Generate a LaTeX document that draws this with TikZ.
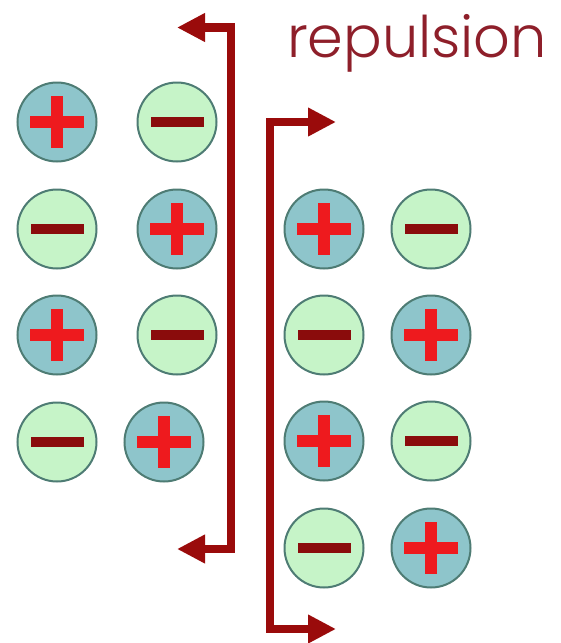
\documentclass[tikz,border=0pt]{standalone}
\usepackage{fontspec}
\setmainfont{Poppins Light}
\usetikzlibrary{arrows.meta}
\definecolor{pfill}{HTML}{8EC5CB}
\definecolor{mfill}{HTML}{C6F4C8}
\definecolor{ringcol}{HTML}{4E7C74}
\definecolor{plusred}{HTML}{EE1A1E}
\definecolor{minusred}{HTML}{8A0C0C}
\definecolor{arrowred}{HTML}{9A0B0B}
\definecolor{textred}{HTML}{8E1F2A}
\tikzset{
  ring/.style={circle, draw=ringcol, line width=2pt, minimum size=79pt, inner sep=0pt},
  pcharge/.pic={
    \node[ring, fill=pfill] (-c) {};
    \fill[plusred] (-27,-6) rectangle (27,6);
    \fill[plusred] (-6,-26) rectangle (6,26);
  },
  mcharge/.pic={
    \node[ring, fill=mfill] (-c) {};
    \fill[minusred] (-26.5,-5) rectangle (26.5,5);
  },
  bracket/.style={draw=arrowred, line width=8.5pt, line join=miter,
    {Triangle[length=28pt,width=27pt]}-{Triangle[length=28pt,width=27pt]}},
  label/.style={text=textred, font=\fontsize{50}{56}\selectfont, inner sep=0pt, anchor=base}
}
\begin{document}
\begin{tikzpicture}[x=1pt,y=-1pt]
\useasboundingbox[fill=white] (0,0) rectangle (561,643);
% left group
\pic (a1) at (57,122) {pcharge};
\pic (a2) at (177,122) {mcharge};
\pic (a3) at (57,229) {mcharge};
\pic (a4) at (177,229) {pcharge};
\pic (a5) at (57,335) {pcharge};
\pic (a6) at (177,335) {mcharge};
\pic (a7) at (57,442) {mcharge};
\pic (a8) at (164,442) {pcharge};
% right group
\pic (b1) at (324,229) {pcharge};
\pic (b2) at (431,229) {mcharge};
\pic (b3) at (324,335) {mcharge};
\pic (b4) at (431,335) {pcharge};
\pic (b5) at (324,441) {pcharge};
\pic (b6) at (431,441) {mcharge};
\pic (b7) at (324,548) {mcharge};
\pic (b8) at (431,548) {pcharge};
% brackets
\coordinate (lt) at (177,27.5);
\coordinate (ltc) at (231,27.5);
\coordinate (lbc) at (231,549);
\coordinate (lb) at (177,549);
\draw[bracket] (lt) -- (ltc) -- (lbc) -- (lb);
\coordinate (rt) at (336,122);
\coordinate (rtc) at (270,122);
\coordinate (rbc) at (270,629);
\coordinate (rb) at (336,629);
\draw[bracket] (rt) -- (rtc) -- (rbc) -- (rb);
% label
\node[label] (rep) at (417,57) {\resizebox{260pt}{!}{repulsion}};
\end{tikzpicture}
\end{document}
